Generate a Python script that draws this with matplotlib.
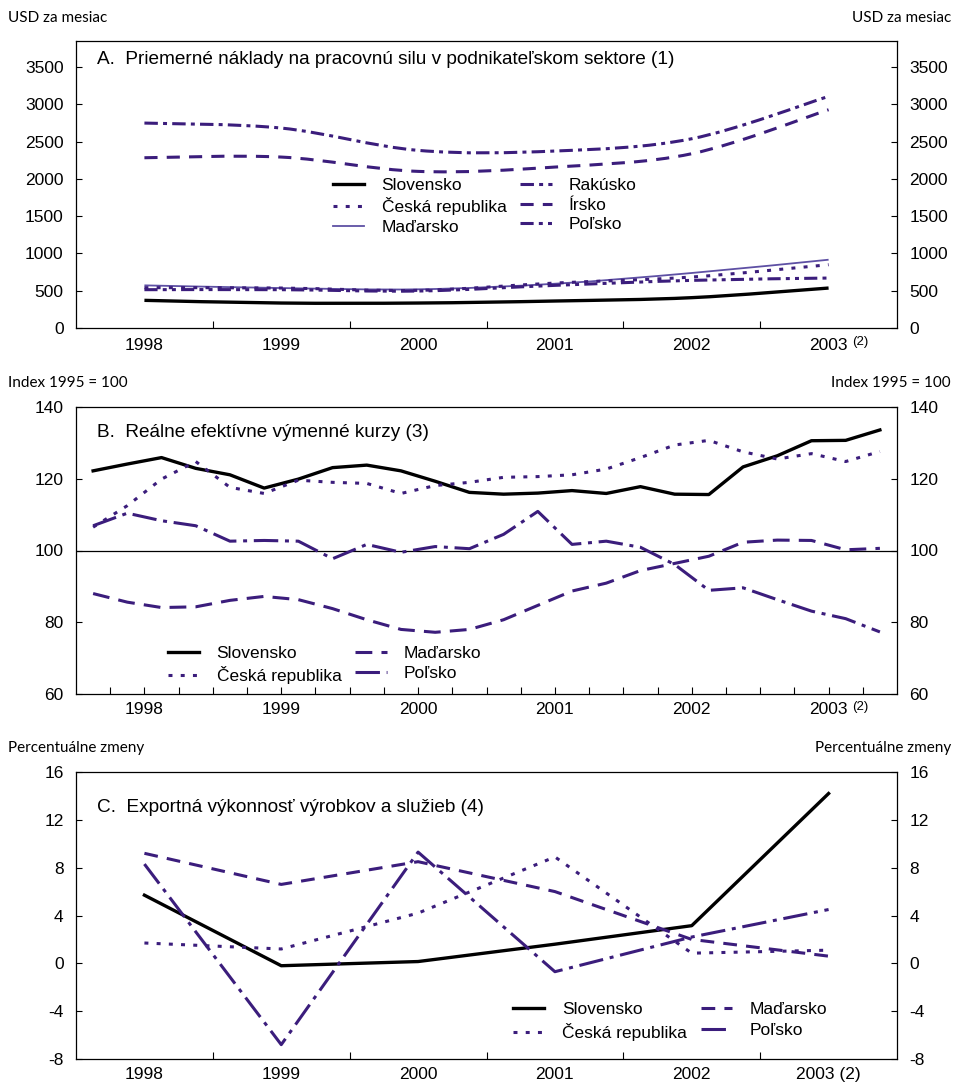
import numpy as np
import matplotlib
matplotlib.use("Agg")
import matplotlib.pyplot as plt
from matplotlib.path import Path
from matplotlib.patches import PathPatch
from matplotlib.lines import Line2D

plt.rcParams["font.family"] = ["Liberation Sans", "DejaVu Sans"]
plt.rcParams["axes.unicode_minus"] = False

# %%
years = ["1998", "1999", "2000", "2001", "2002", "2003"]

# A: average labour cost, USD per month (annual)
a_slovensko = [371, 335, 335, 362, 407, 536]
a_cesko = [541, 536, 505, 603, 684, 849]
a_madarsko = [572, 536, 519, 594, 738, 916]
a_rakusko = [2749, 2682, 2383, 2374, 2539, 3107]
a_irsko = [2284, 2293, 2101, 2159, 2338, 2928]
a_polsko = [514, 514, 496, 572, 639, 670]

# B: real effective exchange rates, index 1995 = 100 (quarterly 1998Q1-2003Q4)
b_slovensko = [122.2, 124.1, 125.9, 122.9, 121.1, 117.4, 119.9, 123.1, 123.8, 122.2,
               119.3, 116.2, 115.7, 116.0, 116.7, 115.9, 117.8, 115.7, 115.6, 123.3,
               126.4, 130.6, 130.7, 133.6]
b_cesko = [106.5, 112.5, 119.9, 124.8, 117.6, 115.9, 119.6, 119.0, 118.7, 115.9,
           118.1, 119.0, 120.4, 120.6, 121.1, 122.7, 125.9, 129.4, 130.7, 127.5,
           125.5, 127.0, 124.8, 127.6]
b_madarsko = [88.0, 85.6, 84.1, 84.3, 86.1, 87.2, 86.3, 83.8, 80.7, 78.0,
              77.2, 78.0, 80.7, 84.7, 88.7, 90.9, 94.4, 96.4, 98.4, 102.3,
              102.9, 102.8, 100.2, 100.6]
b_polsko = [106.9, 110.4, 108.3, 106.9, 102.6, 102.8, 102.6, 97.7, 101.7, 99.5,
            101.1, 100.5, 104.5, 110.9, 101.7, 102.6, 100.9, 96.1, 88.9, 89.6,
            86.3, 83.1, 81.0, 77.3]

# C: export performance of goods and services, % change
c_slovensko = [5.7, -0.2, 0.15, 1.6, 3.15, 14.2]
c_cesko = [1.7, 1.2, 4.2, 8.9, 0.85, 1.1]
c_madarsko = [9.2, 6.6, 8.5, 6.0, 2.0, 0.6]
c_polsko = [8.3, -6.8, 9.3, -0.7, 2.2, 4.5]

PURPLE = "#3b1d7c"
LIGHT = "#5e50a4"
W, H = 963, 1084
LW = 2.2

x_year = np.arange(len(years))
x_quarter = np.arange(len(b_slovensko)) * 0.25 - 0.375

DOT = (0, (1.3, 2.7))
DASH_A = (0, (4.3, 3.0))
DASHDOT_A = (0, (4.4, 1.7, 1.3, 1.7))
DASHDOTDOT_A = (0, (4.3, 1.7, 1.3, 1.7, 1.3, 1.7))
DASH_B = (0, (5.5, 3.0))
DASHDOT_B = (0, (8.0, 2.2, 1.3, 2.2))


def smooth_line(ax, x, y, **kw):
    # Catmull-Rom style cubic Bezier through the points
    x = np.asarray(x, float)
    y = np.asarray(y, float)
    px = np.r_[x[0], x, x[-1]]
    py = np.r_[y[0], y, y[-1]]
    verts = [(x[0], y[0])]
    codes = [Path.MOVETO]
    for i in range(len(x) - 1):
        c1 = (px[i + 1] + (px[i + 2] - px[i]) / 6, py[i + 1] + (py[i + 2] - py[i]) / 6)
        c2 = (px[i + 2] - (px[i + 3] - px[i + 1]) / 6, py[i + 2] - (py[i + 3] - py[i + 1]) / 6)
        verts += [c1, c2, (x[i + 1], y[i + 1])]
        codes += [Path.CURVE4] * 3
    ax.add_patch(PathPatch(Path(verts, codes), fill=False, capstyle="butt", **kw))


def make_axes(top, bottom):
    ax = fig.add_axes([76 / W, 1 - bottom / H, (897 - 76) / W, (bottom - top) / H])
    ax.set_xlim(-0.5, 5.5)
    for s in ax.spines.values():
        s.set_linewidth(0.9)
    ax.tick_params(axis="y", which="both", direction="in", length=4, width=0.8, pad=9,
                   labelsize=12.5, left=True, right=True, labelleft=True, labelright=True)
    return ax


def year_axis(ax, quarterly=False, last="2003", pad=7.5):
    ax.set_xticks(x_year)
    ax.set_xticklabels(years[:-1] + [last])
    if quarterly:
        minors = [m for m in np.arange(-0.25, 5.5, 0.25) if abs(m - round(m)) > 1e-6]
        ax.set_xticks(minors, minor=True)
        ax.tick_params(axis="x", which="both", direction="in", length=5, width=0.8,
                       labelsize=12.5, pad=pad, top=False)
    else:
        ax.set_xticks(np.arange(0.5, 5.0, 1.0), minor=True)
        ax.tick_params(axis="x", which="major", length=0, labelsize=12.5, pad=pad, top=False)
        ax.tick_params(axis="x", which="minor", direction="in", length=5, width=0.8, top=False)


def note2(ax, dy):
    ax.annotate("(2)", xy=(5.17, 0), xycoords=("data", "axes fraction"),
                xytext=(0, dy), textcoords="offset points", ha="left", va="top", fontsize=9.5)


def legend(ax, handles, labels, anchor, spacing=0.25):
    ax.legend(handles, labels, ncol=2, frameon=False, fontsize=12.5, loc="upper left",
              bbox_to_anchor=anchor, handlelength=1.8, handletextpad=1.0,
              columnspacing=0.8, labelspacing=spacing, borderaxespad=0)


def title(ax, text, y):
    ax.text(0.026, y, text, transform=ax.transAxes, fontsize=13.7, va="center")


fig = plt.figure(figsize=(W / 100, H / 100), dpi=100)

# %% A
axA = make_axes(41, 328)
axA.set_ylim(0, 3850)
axA.set_yticks(range(0, 3501, 500))
year_axis(axA, pad=7)
note2(axA, -6)
smooth_line(axA, x_year, a_rakusko, color=PURPLE, lw=LW, linestyle=DASHDOT_A)
smooth_line(axA, x_year, a_irsko, color=PURPLE, lw=LW, linestyle=DASH_A)
smooth_line(axA, x_year, a_madarsko, color=LIGHT, lw=1.3)
smooth_line(axA, x_year, a_cesko, color=PURPLE, lw=LW, linestyle=DOT)
smooth_line(axA, x_year, a_polsko, color=PURPLE, lw=LW, linestyle=DASHDOTDOT_A)
smooth_line(axA, x_year, a_slovensko, color="black", lw=2.4)
handlesA = [
    Line2D([], [], color="black", lw=2.4),
    Line2D([], [], color=PURPLE, lw=LW, linestyle=DOT),
    Line2D([], [], color=LIGHT, lw=1.3),
    Line2D([], [], color=PURPLE, lw=LW, linestyle=DASHDOT_A),
    Line2D([], [], color=PURPLE, lw=LW, linestyle=DASH_A),
    Line2D([], [], color=PURPLE, lw=LW, linestyle=DASHDOTDOT_A),
]
legend(axA, handlesA, ["Slovensko", "Česká republika", "Maďarsko", "Rakúsko", "Írsko", "Poľsko"],
       (0.3045, 0.547))
title(axA, "A.  Priemerné náklady na pracovnú silu v podnikateľskom sektore (1)", 0.935)

# %% B
axB = make_axes(407, 694)
axB.set_ylim(60, 140)
axB.set_yticks(range(60, 141, 20))
year_axis(axB, quarterly=True, pad=6)
note2(axB, -5)
axB.axhline(100, color="black", lw=0.9)
lb = [
    axB.plot(x_quarter, b_slovensko, color="black", lw=2.4)[0],
    axB.plot(x_quarter, b_cesko, color=PURPLE, lw=LW, linestyle=DOT)[0],
    axB.plot(x_quarter, b_madarsko, color=PURPLE, lw=LW, linestyle=DASH_B)[0],
    axB.plot(x_quarter, b_polsko, color=PURPLE, lw=LW, linestyle=DASHDOT_B)[0],
]
legend(axB, lb, ["Slovensko", "Česká republika", "Maďarsko", "Poľsko"], (0.1035, 0.191))
title(axB, "B.  Reálne efektívne výmenné kurzy (3)", 0.91)

# %% C
axC = make_axes(772, 1059)
axC.set_ylim(-8, 16)
axC.set_yticks(range(-8, 17, 4))
year_axis(axC, last="2003 (2)", pad=5.5)
lc = [
    axC.plot(x_year, c_slovensko, color="black", lw=2.4)[0],
    axC.plot(x_year, c_cesko, color=PURPLE, lw=LW, linestyle=DOT)[0],
    axC.plot(x_year, c_madarsko, color=PURPLE, lw=LW, linestyle=(0, (4.5, 3.0)))[0],
    axC.plot(x_year, c_polsko, color=PURPLE, lw=LW, linestyle=DASHDOT_B)[0],
]
legend(axC, lc, ["Slovensko", "Česká republika", "Maďarsko", "Poľsko"], (0.524, 0.223), 0.35)
title(axC, "C.  Exportná výkonnosť výrobkov a služieb (4)", 0.875)

# unit captions above each panel
units = [("USD za mesiac", 18), ("Index 1995 = 100", 383), ("Percentuálne zmeny", 748)]
for txt, y in units:
    fig.text(8 / W, 1 - y / H, txt, fontsize=11, family=["Lato", "DejaVu Sans"], va="center")
    fig.text(951 / W, 1 - y / H, txt, fontsize=11, family=["Lato", "DejaVu Sans"],
             va="center", ha="right")

fig.savefig("out.png", dpi=100)
